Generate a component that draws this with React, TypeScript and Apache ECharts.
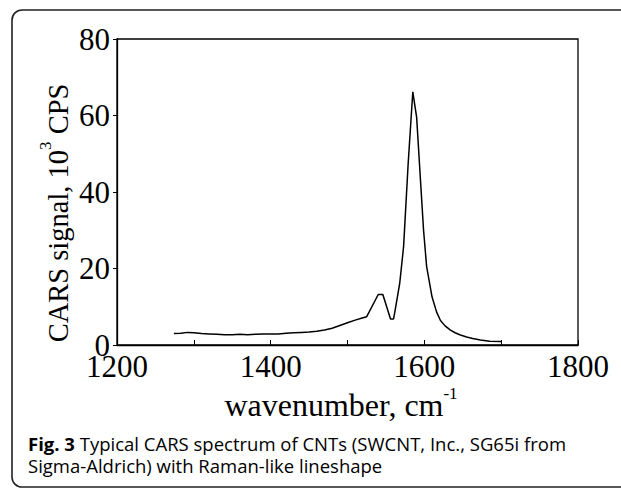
import React, { useEffect, useRef } from 'react';
import * as echarts from 'echarts';

const wavenumbers = [
  1274, 1283, 1292, 1300, 1310, 1320, 1330, 1340, 1350, 1360, 1370, 1380, 1390, 1400,
  1410, 1420, 1430, 1440, 1450, 1460, 1470, 1480, 1490, 1500, 1510, 1518, 1525, 1540,
  1546, 1556, 1560, 1562, 1568, 1573, 1579, 1585, 1590, 1595, 1599, 1603, 1610, 1616,
  1621, 1627, 1634, 1640, 1647, 1655, 1663, 1673, 1685, 1700,
];
const signal = [
  3.0, 3.1, 3.3, 3.2, 3.0, 2.9, 2.8, 2.7, 2.7, 2.8, 2.7, 2.8, 2.9, 2.9,
  2.9, 3.1, 3.2, 3.3, 3.4, 3.6, 3.9, 4.4, 5.1, 5.8, 6.5, 7.0, 7.4, 13.2,
  13.2, 6.8, 6.8, 9.1, 16.2, 25.7, 47.6, 66.2, 59.5, 43, 30, 20.5, 12.6, 8.6,
  6.4, 5.0, 3.9, 3.2, 2.6, 2.1, 1.7, 1.3, 1.0, 0.9,
];
const xLabelTicks = [1200, 1400, 1600, 1800];
const yTicks = [0, 20, 40, 60, 80];

const yTitle = ['CARS signal, 10', '3', ' CPS'];
const xTitle = ['wavenumber, cm', '-1'];
const captionBold = 'Fig. 3';
const captionLine1 = ' Typical CARS spectrum of CNTs (SWCNT, Inc., SG65i from';
const captionLine2 = 'Sigma-Aldrich) with Raman-like lineshape';

const SERIF = '"Liberation Serif", "Times New Roman", serif';
const SANS = '"Open Sans", "Noto Sans", sans-serif';

export default function App() {
  const ref = useRef<HTMLDivElement>(null);
  useEffect(() => {
    if (!ref.current) return;
    const chart = echarts.init(ref.current, undefined, { renderer: 'svg' });
    const option: any = {
      animation: false,
      backgroundColor: '#fff',
      grid: {
        left: 117,
        right: 43,
        top: 39,
        bottom: 143,
        show: true,
        borderColor: '#000',
        borderWidth: 1.3,
      },
      xAxis: {
        type: 'value',
        min: 1200,
        max: 1800,
        interval: 100,
        axisLine: { show: true, lineStyle: { color: '#000', width: 1.3 } },
        axisTick: { show: true, inside: true, length: 5, lineStyle: { color: '#000', width: 1 } },
        axisLabel: {
          formatter: (v: number) => (xLabelTicks.includes(v) ? String(v) : ''),
          fontFamily: SERIF,
          fontSize: 31,
          color: '#000',
          margin: 6,
        },
        splitLine: { show: false },
      },
      yAxis: {
        type: 'value',
        min: yTicks[0],
        max: yTicks[yTicks.length - 1],
        interval: 20,
        axisLine: { show: true, lineStyle: { color: '#000', width: 1.3 } },
        axisTick: { show: true, inside: false, length: 4, lineStyle: { color: '#000', width: 1 } },
        axisLabel: {
          fontFamily: SERIF,
          fontSize: 31,
          color: '#000',
          margin: 7,
        },
        splitLine: { show: false },
      },
      series: [
        {
          type: 'line',
          data: wavenumbers.map((w, i) => [w, signal[i]]),
          showSymbol: false,
          symbol: 'none',
          lineStyle: { color: '#000', width: 1.5 },
          silent: true,
        },
      ],
      graphic: [
        {
          type: 'rect',
          silent: true,
          shape: { x: 12, y: 10, width: 640, height: 477, r: 10 },
          style: { fill: 'none', stroke: '#222', lineWidth: 1.6 },
        },
        {
          type: 'text',
          x: 55,
          y: 213,
          rotation: Math.PI / 2,
          style: {
            text: `{b|${yTitle[0]}}{s|${yTitle[1]}}{b|${yTitle[2]}}`,
            align: 'center',
            verticalAlign: 'middle',
            textAlign: 'center',
            textVerticalAlign: 'middle',
            rich: {
              b: { fontFamily: SERIF, fontSize: 28.5, color: '#000', lineHeight: 36, verticalAlign: 'bottom' },
              s: { fontFamily: SERIF, fontSize: 17, color: '#000', lineHeight: 17, verticalAlign: 'top' },
            },
          },
        },
        {
          type: 'text',
          x: 341,
          y: 403,
          style: {
            text: `{b|${xTitle[0]}}{s|${xTitle[1]}}`,
            align: 'center',
            verticalAlign: 'middle',
            textAlign: 'center',
            textVerticalAlign: 'middle',
            rich: {
              b: { fontFamily: SERIF, fontSize: 32, color: '#000', lineHeight: 36, verticalAlign: 'bottom' },
              s: { fontFamily: SERIF, fontSize: 17, color: '#000', lineHeight: 17, verticalAlign: 'top' },
            },
          },
        },
        {
          type: 'text',
          x: 28,
          y: 433,
          style: {
            text: `{b|${captionBold}}{n|${captionLine1}}\n{n|${captionLine2}}`,
            align: 'left',
            verticalAlign: 'top',
            textAlign: 'left',
            textVerticalAlign: 'top',
            rich: {
              b: { fontFamily: SANS, fontSize: 18.5, fontWeight: 'bold', color: '#2a2a2a', lineHeight: 21.5 },
              n: { fontFamily: SANS, fontSize: 18.5, color: '#444', lineHeight: 21.5 },
            },
          },
        },
      ],
    };
    chart.setOption(option);
    return () => chart.dispose();
  }, []);
  return (
    <div
      ref={ref}
      style={{ position: 'fixed', left: 0, top: 0, width: 621, height: 488, background: '#fff' }}
    />
  );
}
